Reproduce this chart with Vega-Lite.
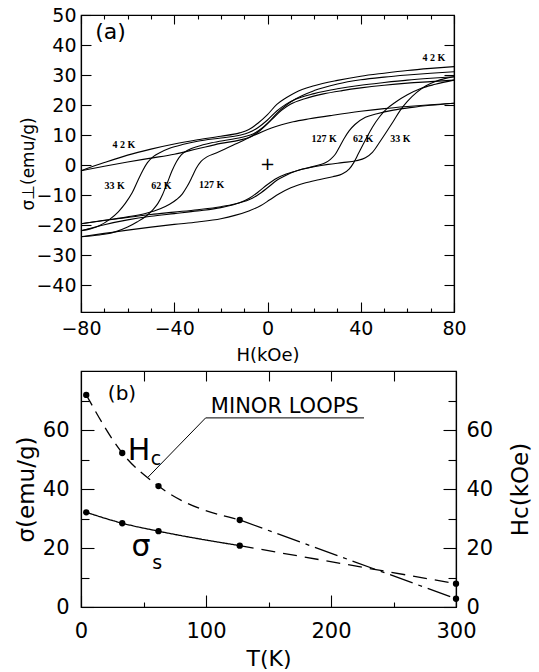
{
"$schema": "https://vega.github.io/schema/vega-lite/v6.json",
"padding": {"left": 14, "top": 5, "right": 0, "bottom": 0},
"spacing": 4,
"config": {
 "view": {"stroke": "black", "strokeWidth": 1.2},
 "axis": {"domainColor": "black", "domainWidth": 1.2, "tickColor": "black", "tickWidth": 1.1, "labelColor": "black", "titleColor": "black", "labelFont": "DejaVu Sans", "titleFont": "DejaVu Sans", "labelFontSize": 19, "titleFontSize": 19, "titleFontWeight": "normal", "grid": false, "labelFlush": false, "labelOverlap": false}
},
"vconcat": [
 {
  "width": 373, "height": 297,
  "layer": [
   {
    "data": {"values": [
     {"c":"4.2d","H":-80,"s":-1.9},{"c":"4.2d","H":-70,"s":0.8},{"c":"4.2d","H":-60,"s":3.3},{"c":"4.2d","H":-50,"s":5.3},{"c":"4.2d","H":-40,"s":7.0},{"c":"4.2d","H":-30,"s":8.4},{"c":"4.2d","H":-20,"s":9.6},{"c":"4.2d","H":-12,"s":10.7},{"c":"4.2d","H":-8,"s":11.8},{"c":"4.2d","H":-4,"s":14.0},{"c":"4.2d","H":0,"s":16.8},{"c":"4.2d","H":4,"s":20.2},{"c":"4.2d","H":8,"s":22.4},{"c":"4.2d","H":12,"s":24.2},{"c":"4.2d","H":20,"s":26.4},{"c":"4.2d","H":30,"s":28.2},{"c":"4.2d","H":40,"s":29.6},{"c":"4.2d","H":50,"s":30.6},{"c":"4.2d","H":60,"s":31.5},{"c":"4.2d","H":70,"s":32.2},{"c":"4.2d","H":80,"s":32.8},
     {"c":"4.2a","H":-80,"s":-1.9},{"c":"4.2a","H":-70,"s":-0.4},{"c":"4.2a","H":-60,"s":1.0},{"c":"4.2a","H":-50,"s":2.3},{"c":"4.2a","H":-40,"s":3.6},{"c":"4.2a","H":-30,"s":5.4},{"c":"4.2a","H":-20,"s":7.2},{"c":"4.2a","H":-12,"s":8.3},{"c":"4.2a","H":-8,"s":9.2},{"c":"4.2a","H":-4,"s":11.0},{"c":"4.2a","H":0,"s":13.8},{"c":"4.2a","H":4,"s":17.2},{"c":"4.2a","H":8,"s":19.9},{"c":"4.2a","H":12,"s":22.0},{"c":"4.2a","H":20,"s":24.8},{"c":"4.2a","H":30,"s":27.0},{"c":"4.2a","H":40,"s":28.4},{"c":"4.2a","H":50,"s":29.3},{"c":"4.2a","H":60,"s":30.0},{"c":"4.2a","H":70,"s":30.6},{"c":"4.2a","H":80,"s":31.1},
     {"c":"33d","H":-80,"s":-21.9},{"c":"33d","H":-76,"s":-21.3},{"c":"33d","H":-72,"s":-20.2},{"c":"33d","H":-68,"s":-18.3},{"c":"33d","H":-64,"s":-15.6},{"c":"33d","H":-61,"s":-12.8},{"c":"33d","H":-58,"s":-9.2},{"c":"33d","H":-55.5,"s":-5.0},{"c":"33d","H":-53.5,"s":-1.8},{"c":"33d","H":-51.5,"s":0.8},{"c":"33d","H":-49,"s":2.8},{"c":"33d","H":-46,"s":4.2},{"c":"33d","H":-42,"s":5.6},{"c":"33d","H":-36,"s":6.9},{"c":"33d","H":-30,"s":7.9},{"c":"33d","H":-20,"s":9.0},{"c":"33d","H":-12,"s":9.9},{"c":"33d","H":-8,"s":10.8},{"c":"33d","H":-4,"s":12.5},{"c":"33d","H":0,"s":15.0},{"c":"33d","H":4,"s":18.0},{"c":"33d","H":8,"s":20.3},{"c":"33d","H":12,"s":21.9},{"c":"33d","H":20,"s":23.8},{"c":"33d","H":30,"s":25.4},{"c":"33d","H":40,"s":26.6},{"c":"33d","H":50,"s":27.5},{"c":"33d","H":60,"s":28.3},{"c":"33d","H":70,"s":28.9},{"c":"33d","H":80,"s":29.4},
     {"c":"33a","H":-80,"s":-21.9},{"c":"33a","H":-75,"s":-20.9},{"c":"33a","H":-70,"s":-19.9},{"c":"33a","H":-60,"s":-18.3},{"c":"33a","H":-50,"s":-17.1},{"c":"33a","H":-40,"s":-16.2},{"c":"33a","H":-30,"s":-15.3},{"c":"33a","H":-20,"s":-14.2},{"c":"33a","H":-12,"s":-12.6},{"c":"33a","H":-8,"s":-11.2},{"c":"33a","H":-4,"s":-9.0},{"c":"33a","H":0,"s":-6.5},{"c":"33a","H":4,"s":-4.4},{"c":"33a","H":8,"s":-3.0},{"c":"33a","H":14,"s":-1.6},{"c":"33a","H":20,"s":-0.6},{"c":"33a","H":26,"s":0.2},{"c":"33a","H":32,"s":0.8},{"c":"33a","H":38,"s":1.4},{"c":"33a","H":42,"s":2.4},{"c":"33a","H":45,"s":4.2},{"c":"33a","H":48,"s":7.5},{"c":"33a","H":51,"s":11.0},{"c":"33a","H":54,"s":14.6},{"c":"33a","H":57,"s":18.3},{"c":"33a","H":60,"s":21.2},{"c":"33a","H":64,"s":24.2},{"c":"33a","H":68,"s":26.4},{"c":"33a","H":72,"s":27.8},{"c":"33a","H":76,"s":28.8},{"c":"33a","H":80,"s":29.4},
     {"c":"62d","H":-80,"s":-23.9},{"c":"62d","H":-75,"s":-23.6},{"c":"62d","H":-70,"s":-23.1},{"c":"62d","H":-65,"s":-22.2},{"c":"62d","H":-60,"s":-20.7},{"c":"62d","H":-56,"s":-19.0},{"c":"62d","H":-52,"s":-17.0},{"c":"62d","H":-49,"s":-14.8},{"c":"62d","H":-47,"s":-12.8},{"c":"62d","H":-45,"s":-9.8},{"c":"62d","H":-43,"s":-6.0},{"c":"62d","H":-41,"s":-2.0},{"c":"62d","H":-39,"s":1.2},{"c":"62d","H":-37,"s":3.4},{"c":"62d","H":-34,"s":5.0},{"c":"62d","H":-30,"s":6.2},{"c":"62d","H":-24,"s":7.4},{"c":"62d","H":-16,"s":8.5},{"c":"62d","H":-10,"s":9.4},{"c":"62d","H":-6,"s":10.4},{"c":"62d","H":-2,"s":12.5},{"c":"62d","H":2,"s":15.3},{"c":"62d","H":6,"s":18.2},{"c":"62d","H":10,"s":20.3},{"c":"62d","H":16,"s":22.1},{"c":"62d","H":24,"s":23.7},{"c":"62d","H":32,"s":24.8},{"c":"62d","H":40,"s":25.7},{"c":"62d","H":50,"s":26.6},{"c":"62d","H":60,"s":27.3},{"c":"62d","H":70,"s":27.8},{"c":"62d","H":80,"s":28.3},
     {"c":"62a","H":-80,"s":-23.9},{"c":"62a","H":-70,"s":-22.8},{"c":"62a","H":-60,"s":-21.7},{"c":"62a","H":-50,"s":-20.7},{"c":"62a","H":-40,"s":-19.8},{"c":"62a","H":-30,"s":-19.0},{"c":"62a","H":-20,"s":-17.9},{"c":"62a","H":-14,"s":-16.8},{"c":"62a","H":-8,"s":-15.3},{"c":"62a","H":-3,"s":-13.6},{"c":"62a","H":1,"s":-11.6},{"c":"62a","H":5,"s":-9.6},{"c":"62a","H":10,"s":-7.6},{"c":"62a","H":16,"s":-6.0},{"c":"62a","H":22,"s":-4.9},{"c":"62a","H":28,"s":-3.9},{"c":"62a","H":32,"s":-3.0},{"c":"62a","H":35,"s":-1.4},{"c":"62a","H":37,"s":0.8},{"c":"62a","H":39,"s":3.8},{"c":"62a","H":41,"s":6.8},{"c":"62a","H":43,"s":9.8},{"c":"62a","H":45,"s":12.6},{"c":"62a","H":48,"s":16.0},{"c":"62a","H":51,"s":18.6},{"c":"62a","H":55,"s":21.0},{"c":"62a","H":60,"s":23.4},{"c":"62a","H":66,"s":25.6},{"c":"62a","H":72,"s":26.9},{"c":"62a","H":80,"s":28.3},
     {"c":"127d","H":-80,"s":-19.6},{"c":"127d","H":-70,"s":-18.4},{"c":"127d","H":-60,"s":-17.3},{"c":"127d","H":-52,"s":-16.1},{"c":"127d","H":-46,"s":-14.6},{"c":"127d","H":-42,"s":-13.1},{"c":"127d","H":-39,"s":-11.5},{"c":"127d","H":-36.5,"s":-9.6},{"c":"127d","H":-34.5,"s":-7.2},{"c":"127d","H":-32.5,"s":-4.2},{"c":"127d","H":-30.5,"s":-1.0},{"c":"127d","H":-28.5,"s":1.2},{"c":"127d","H":-26,"s":2.7},{"c":"127d","H":-22,"s":4.0},{"c":"127d","H":-18,"s":5.4},{"c":"127d","H":-14,"s":6.9},{"c":"127d","H":-10,"s":8.3},{"c":"127d","H":-6,"s":9.8},{"c":"127d","H":-2,"s":11.2},{"c":"127d","H":2,"s":12.4},{"c":"127d","H":6,"s":13.4},{"c":"127d","H":11,"s":14.4},{"c":"127d","H":18,"s":15.4},{"c":"127d","H":28,"s":16.6},{"c":"127d","H":40,"s":17.9},{"c":"127d","H":50,"s":18.8},{"c":"127d","H":60,"s":19.5},{"c":"127d","H":70,"s":20.1},{"c":"127d","H":80,"s":20.6},
     {"c":"127a","H":-80,"s":-19.6},{"c":"127a","H":-70,"s":-18.5},{"c":"127a","H":-60,"s":-17.5},{"c":"127a","H":-50,"s":-16.5},{"c":"127a","H":-40,"s":-15.7},{"c":"127a","H":-30,"s":-14.9},{"c":"127a","H":-20,"s":-13.9},{"c":"127a","H":-14,"s":-13.0},{"c":"127a","H":-8,"s":-11.6},{"c":"127a","H":-4,"s":-9.9},{"c":"127a","H":0,"s":-7.6},{"c":"127a","H":4,"s":-5.1},{"c":"127a","H":8,"s":-3.4},{"c":"127a","H":12,"s":-2.1},{"c":"127a","H":17,"s":-1.0},{"c":"127a","H":22,"s":0.0},{"c":"127a","H":25,"s":0.8},{"c":"127a","H":27,"s":1.9},{"c":"127a","H":29,"s":3.5},{"c":"127a","H":31,"s":6.2},{"c":"127a","H":33,"s":9.0},{"c":"127a","H":35,"s":11.4},{"c":"127a","H":37.5,"s":13.5},{"c":"127a","H":42,"s":15.9},{"c":"127a","H":47,"s":17.1},{"c":"127a","H":54,"s":18.3},{"c":"127a","H":62,"s":19.2},{"c":"127a","H":70,"s":19.9},{"c":"127a","H":80,"s":20.6}
    ]},
    "mark": {"type": "line", "interpolate": "monotone", "color": "black", "strokeWidth": 1.1},
    "encoding": {
     "x": {"field": "H", "type": "quantitative", "scale": {"domain": [-80, 80], "nice": false, "zero": false},
      "axis": {"orient": "bottom", "values": [-80,-70,-60,-50,-40,-30,-20,-10,0,10,20,30,40,50,60,70,80], "labelExpr": "datum.value % 40 === 0 ? datum.label : ''", "tickSize": {"condition": {"test": "datum.value % 40 === 0", "value": -10}, "value": -4}, "labelPadding": 17, "title": "H(kOe)", "titleFontSize": 18, "titlePadding": 2}},
     "y": {"field": "s", "type": "quantitative", "scale": {"domain": [-49, 50], "nice": false, "zero": false},
      "axis": {"orient": "left", "values": [-40,-30,-20,-10,0,10,20,30,40,50], "tickSize": -10, "labelPadding": 15, "title": "σ⊥(emu/g)", "titleFontSize": 17, "titlePadding": -2}},
     "detail": {"field": "c"}
    }
   },
   {
    "data": {"values": [
     {"H":-61.6,"s":6.7,"t":"4 2 K"},{"H":-65.6,"s":-6.9,"t":"33 K"},{"H":-45.5,"s":-6.9,"t":"62 K"},{"H":-24,"s":-6.7,"t":"127 K"},
     {"H":71.4,"s":35.7,"t":"4 2 K"},{"H":24.3,"s":8.6,"t":"127 K"},{"H":41,"s":8.6,"t":"62 K"},{"H":57,"s":8.6,"t":"33 K"}
    ]},
    "mark": {"type": "text", "font": "Liberation Serif", "fontWeight": "bold", "fontSize": 10, "color": "black"},
    "encoding": {
     "x": {"field": "H", "type": "quantitative", "axis": {"orient": "top", "values": [-80,-70,-60,-50,-40,-30,-20,-10,0,10,20,30,40,50,60,70,80], "labels": false, "title": null, "tickSize": {"condition": {"test": "datum.value % 40 === 0", "value": -9}, "value": -4}}},
     "y": {"field": "s", "type": "quantitative", "axis": {"orient": "right", "values": [-40,-30,-20,-10,0,10,20,30,40], "labels": false, "title": null, "tickSize": -10}},
     "text": {"field": "t"}
    }
   },
   {
    "data": {"values": [{"H":-67.3,"s":44.3,"t":"(a)"}]},
    "mark": {"type": "text", "font": "DejaVu Sans", "fontSize": 22, "color": "black"},
    "encoding": {"x": {"field": "H", "type": "quantitative", "axis": null}, "y": {"field": "s", "type": "quantitative", "axis": null}, "text": {"field": "t"}}
   },
   {
    "data": {"values": [{"H":0,"s":0,"t":"+"}]},
    "mark": {"type": "text", "font": "DejaVu Sans", "fontSize": 18, "color": "black"},
    "encoding": {"x": {"field": "H", "type": "quantitative", "axis": null}, "y": {"field": "s", "type": "quantitative", "axis": null}, "text": {"field": "t"}}
   }
  ],
  "resolve": {"axis": {"x": "independent", "y": "independent"}}
 },
 {
  "width": 375, "height": 236,
  "layer": [
   {
    "data": {"values": [
     {"seg":"h1","sty":"dash","T":4.2,"v":71.9},{"seg":"h1","sty":"dash","T":33,"v":52.2},{"seg":"h1","sty":"dash","T":62,"v":41.0},{"seg":"h1","sty":"dash","T":127,"v":29.5},
     {"seg":"h2","sty":"dashdot","T":127,"v":29.5},{"seg":"h2","sty":"dashdot","T":300,"v":2.8},
     {"seg":"s1","sty":"solid","T":4.2,"v":32.1},{"seg":"s1","sty":"solid","T":33,"v":28.4},{"seg":"s1","sty":"solid","T":62,"v":25.7},{"seg":"s1","sty":"solid","T":127,"v":20.8},
     {"seg":"s2","sty":"dash2","T":127,"v":20.8},{"seg":"s2","sty":"dash2","T":300,"v":7.9}
    ]},
    "mark": {"type": "line", "interpolate": "monotone", "color": "black", "strokeWidth": 1.3},
    "encoding": {
     "x": {"field": "T", "type": "quantitative", "scale": {"domain": [0, 300], "nice": false, "zero": false},
      "axis": {"orient": "bottom", "values": [0,50,100,150,200,250,300], "labelExpr": "datum.value % 100 === 0 ? datum.label : ''", "tickSize": {"condition": {"test": "datum.value % 100 === 0", "value": -12}, "value": -5}, "labelPadding": 25, "labelFontSize": 21, "title": "T(K)", "titleFontSize": 22, "titlePadding": 0}},
     "y": {"field": "v", "type": "quantitative", "scale": {"domain": [0, 80], "nice": false, "zero": false},
      "axis": {"orient": "left", "values": [0,10,20,30,40,50,60,70], "labelExpr": "datum.value % 20 === 0 ? datum.label : ''", "tickSize": {"condition": {"test": "datum.value % 20 === 0", "value": -13}, "value": -8}, "labelPadding": 25, "labelFontSize": 21, "title": "σ(emu/g)", "titleFontSize": 23, "titlePadding": 4}},
     "detail": {"field": "seg"},
     "strokeDash": {"field": "sty", "type": "nominal", "scale": {"domain": ["solid","dash","dashdot","dash2"], "range": [[1,0],[12,7],[24,6,4,6],[14,8]]}, "legend": null}
    }
   },
   {
    "data": {"values": [
     {"T":4.2,"v":71.9},{"T":33,"v":52.2},{"T":62,"v":41.0},{"T":127,"v":29.5},{"T":300,"v":7.9},
     {"T":4.2,"v":32.1},{"T":33,"v":28.4},{"T":62,"v":25.7},{"T":127,"v":20.8},{"T":300,"v":2.8}
    ]},
    "mark": {"type": "point", "filled": true, "color": "black", "size": 40, "opacity": 1},
    "encoding": {
     "x": {"field": "T", "type": "quantitative", "axis": {"orient": "top", "values": [50,100,150,200,250], "labels": false, "title": null, "tickSize": -10}},
     "y": {"field": "v", "type": "quantitative", "axis": {"orient": "right", "values": [0,10,20,30,40,50,60,70], "labelExpr": "datum.value % 20 === 0 ? datum.label : ''", "tickSize": {"condition": {"test": "datum.value % 20 === 0", "value": -13}, "value": -8}, "labelPadding": 23, "labelFontSize": 21, "title": "Hc(kOe)", "titleFontSize": 23, "titleAngle": -90, "titleBaseline": "top", "titlePadding": 17}}
    }
   },
   {
    "data": {"values": [{"T":32.8,"v":72.3,"t":"(b)"}]},
    "mark": {"type": "text", "font": "DejaVu Sans", "fontSize": 20, "color": "black"},
    "encoding": {"x": {"field": "T", "type": "quantitative", "axis": null}, "y": {"field": "v", "type": "quantitative", "axis": null}, "text": {"field": "t"}}
   },
   {
    "data": {"values": [{"T":163,"v":67.7,"t":"MINOR LOOPS"}]},
    "mark": {"type": "text", "font": "DejaVu Sans", "fontSize": 21, "color": "black"},
    "encoding": {"x": {"field": "T", "type": "quantitative", "axis": null}, "y": {"field": "v", "type": "quantitative", "axis": null}, "text": {"field": "t"}}
   },
   {
    "data": {"values": [{"T":46.4,"v":53,"t":"H"},{"T":48,"v":20.4,"t":"σ"}]},
    "mark": {"type": "text", "font": "DejaVu Sans", "fontSize": 30, "color": "black"},
    "encoding": {"x": {"field": "T", "type": "quantitative", "axis": null}, "y": {"field": "v", "type": "quantitative", "axis": null}, "text": {"field": "t"}}
   },
   {
    "data": {"values": [{"T":60,"v":50.3,"t":"c"},{"T":61,"v":15.0,"t":"s"}]},
    "mark": {"type": "text", "font": "DejaVu Sans", "fontSize": 19, "color": "black"},
    "encoding": {"x": {"field": "T", "type": "quantitative", "axis": null}, "y": {"field": "v", "type": "quantitative", "axis": null}, "text": {"field": "t"}}
   },
   {
    "data": {"values": [{"T":99.7,"v":64.1,"T2":53.6,"v2":44.0},{"T":99.7,"v":64.1,"T2":226.4,"v2":64.1}]},
    "mark": {"type": "rule", "color": "black", "strokeWidth": 1},
    "encoding": {"x": {"field": "T", "type": "quantitative", "axis": null}, "y": {"field": "v", "type": "quantitative", "axis": null}, "x2": {"field": "T2"}, "y2": {"field": "v2"}}
   }
  ],
  "resolve": {"axis": {"x": "independent", "y": "independent"}}
 }
]
}
